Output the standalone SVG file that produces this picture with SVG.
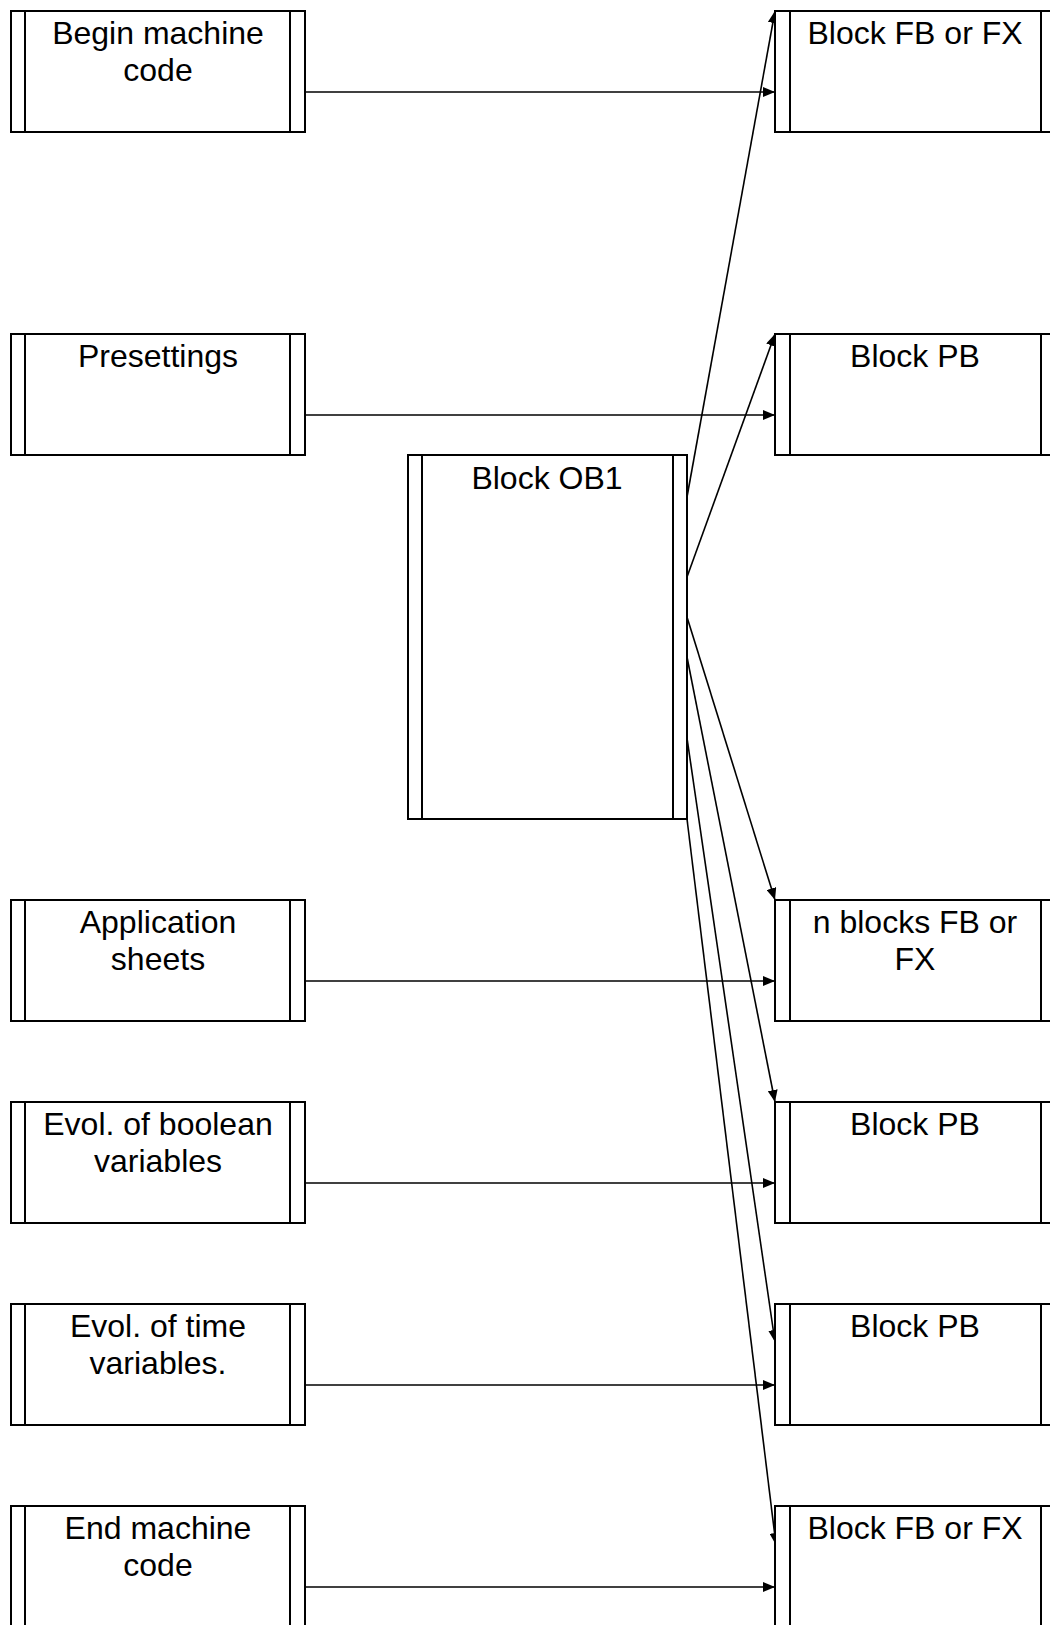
<svg xmlns="http://www.w3.org/2000/svg" width="1050" height="1625" viewBox="0 0 1050 1625">
<style>
.box{fill:#fff;stroke:#000;stroke-width:2}
.in{stroke:#000;stroke-width:2;fill:none}
.lbl{font-family:"Liberation Sans",Arial,sans-serif;font-size:32px;fill:#000;text-anchor:middle}
.c{stroke:#000;stroke-width:1.6;fill:none;marker-end:url(#ah)}
</style>
<defs>
<marker id="ah" markerUnits="userSpaceOnUse" markerWidth="12" markerHeight="10" refX="12" refY="5" orient="auto">
<path d="M0,0 L12,5 L0,10 z" fill="#000"/>
</marker>
</defs>
<rect width="1050" height="1625" fill="#fff"/>
<g id="connectors">
<line class="c" x1="305" y1="92" x2="775" y2="92"/>
<line class="c" x1="305" y1="415" x2="775" y2="415"/>
<line class="c" x1="305" y1="981" x2="775" y2="981"/>
<line class="c" x1="305" y1="1183" x2="775" y2="1183"/>
<line class="c" x1="305" y1="1385" x2="775" y2="1385"/>
<line class="c" x1="305" y1="1587" x2="775" y2="1587"/>
<line class="c" x1="687" y1="497" x2="775" y2="11"/>
<line class="c" x1="687" y1="577" x2="775" y2="334"/>
<line class="c" x1="687" y1="617" x2="775" y2="900"/>
<line class="c" x1="687" y1="657" x2="775" y2="1102"/>
<line class="c" x1="687" y1="738" x2="775" y2="1342"/>
<line class="c" x1="687" y1="819" x2="776" y2="1545"/>
</g>
<g id="n-begin"><rect class="box" x="11" y="11" width="294" height="121"/><path class="in" d="M25,11V132M290,11V132"/><text class="lbl" x="158" y="44">Begin machine</text><text class="lbl" x="158" y="81">code</text></g>
<g id="n-preset"><rect class="box" x="11" y="334" width="294" height="121"/><path class="in" d="M25,334V455M290,334V455"/><text class="lbl" x="158" y="367">Presettings</text></g>
<g id="n-app"><rect class="box" x="11" y="900" width="294" height="121"/><path class="in" d="M25,900V1021M290,900V1021"/><text class="lbl" x="158" y="933">Application</text><text class="lbl" x="158" y="970">sheets</text></g>
<g id="n-evolbool"><rect class="box" x="11" y="1102" width="294" height="121"/><path class="in" d="M25,1102V1223M290,1102V1223"/><text class="lbl" x="158" y="1135">Evol. of boolean</text><text class="lbl" x="158" y="1172">variables</text></g>
<g id="n-evoltime"><rect class="box" x="11" y="1304" width="294" height="121"/><path class="in" d="M25,1304V1425M290,1304V1425"/><text class="lbl" x="158" y="1337">Evol. of time</text><text class="lbl" x="158" y="1374">variables.</text></g>
<g id="n-end"><rect class="box" x="11" y="1506" width="294" height="121"/><path class="in" d="M25,1506V1627M290,1506V1627"/><text class="lbl" x="158" y="1539">End machine</text><text class="lbl" x="158" y="1576">code</text></g>
<g id="n-ob1"><rect class="box" x="408" y="455" width="279" height="364"/><path class="in" d="M422,455V819M673,455V819"/><text class="lbl" x="547" y="489">Block OB1</text></g>
<g id="n-fb1"><rect class="box" x="775" y="11" width="281" height="121"/><path class="in" d="M790,11V132M1041,11V132"/><text class="lbl" x="915" y="44">Block FB or FX</text></g>
<g id="n-pb1"><rect class="box" x="775" y="334" width="281" height="121"/><path class="in" d="M790,334V455M1041,334V455"/><text class="lbl" x="915" y="367">Block PB</text></g>
<g id="n-nblocks"><rect class="box" x="775" y="900" width="281" height="121"/><path class="in" d="M790,900V1021M1041,900V1021"/><text class="lbl" x="915" y="933">n blocks FB or</text><text class="lbl" x="915" y="970">FX</text></g>
<g id="n-pb2"><rect class="box" x="775" y="1102" width="281" height="121"/><path class="in" d="M790,1102V1223M1041,1102V1223"/><text class="lbl" x="915" y="1135">Block PB</text></g>
<g id="n-pb3"><rect class="box" x="775" y="1304" width="281" height="121"/><path class="in" d="M790,1304V1425M1041,1304V1425"/><text class="lbl" x="915" y="1337">Block PB</text></g>
<g id="n-fb2"><rect class="box" x="775" y="1506" width="281" height="121"/><path class="in" d="M790,1506V1627M1041,1506V1627"/><text class="lbl" x="915" y="1539">Block FB or FX</text></g>
</svg>
